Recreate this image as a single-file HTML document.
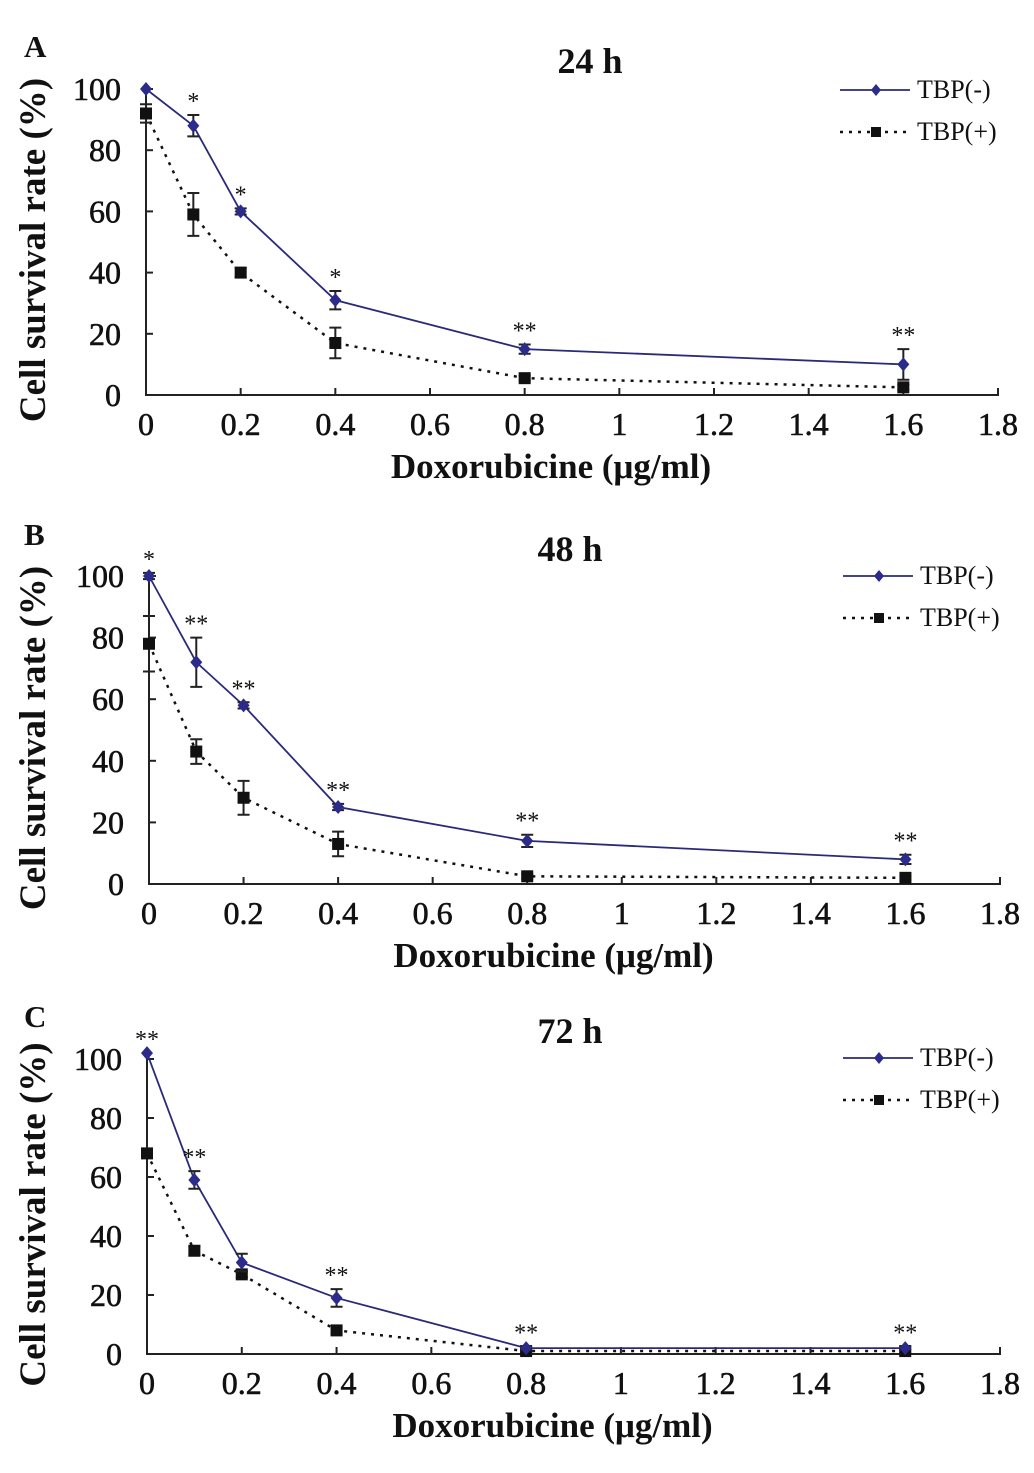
<!DOCTYPE html>
<html><head><meta charset="utf-8"><style>
body{margin:0;background:#fff}
svg{display:block}
text{font-family:"Liberation Serif",serif;fill:#111}
</style></head><body>
<svg id="fig" width="1034" height="1473" viewBox="0 0 1034 1473" xmlns="http://www.w3.org/2000/svg"></svg>
<script>
const xValues=[0,0.1,0.2,0.4,0.8,1.6];
const xTicks=[0,0.2,0.4,0.6,0.8,1,1.2,1.4,1.6,1.8];
const yTicks=[0,20,40,60,80,100];
const titles=["24 h","48 h","72 h"];
const letters=["A","B","C"];
const negA=[100,88,60,31,15,10], negAErr=[0,3.5,1,3,1.5,5];
const posA=[92,59,40,17,5.5,2.5], posAErr=[3,7,1.5,5,0.8,0.8];
const negB=[100,72,58,25,14,8], negBErr=[1,8,1,1,2,1.5];
const posB=[78,43,28,13,2.5,2], posBErr=[9,4,5.5,4,0.8,0.6];
const negC=[102,59,31,19,2,2], negCErr=[0,3,3,3,0.5,0.5];
const posC=[68,35,27,8,1,1], posCErr=[1,1.5,1,0.8,0.5,0.5];
const sigA=["","*","*","*","**","**"];
const sigB=["*","**","**","**","**","**"];
const sigC=["**","**","","**","**","**"];
const panels=[
 {x0:146,x1:998,y100:89,y0:395,neg:negA,negE:negAErr,pos:posA,posE:posAErr,sig:sigA,top:0},
 {x0:149,x1:1000,y100:576,y0:884,neg:negB,negE:negBErr,pos:posB,posE:posBErr,sig:sigB,top:488},
 {x0:147,x1:1000,y100:1059,y0:1354,neg:negC,negE:negCErr,pos:posC,posE:posCErr,sig:sigC,top:970}
];
const NS="http://www.w3.org/2000/svg";
const svg=document.getElementById('fig');
function el(tag,attrs,parent,txt){const e=document.createElementNS(NS,tag);for(const k in attrs)e.setAttribute(k,attrs[k]);if(txt!==undefined)e.textContent=txt;(parent||svg).appendChild(e);return e;}
panels.forEach((p,i)=>{
 const g=el('g',{});
 
 
 const sx=v=>p.x0+v/0.2*((p.x1-p.x0)/9);
 const sy=v=>p.y0-v*(p.y0-p.y100)/100;
 const t1=el('text',{x:24,y:p.top+57,'font-size':31,'font-weight':'bold','text-anchor':'start'},g,letters[i]);
 
 
 const t2=el('text',{x:(i==0?590:570),y:p.top+73,'font-size':36,'font-weight':'bold','text-anchor':'middle'},g,titles[i]);
 
 
 const ax=el('path',{d:`M${p.x0},${sy(100)-2}V${p.y0}H${p.x1}V${p.y0-7}`,stroke:'#222','stroke-width':2,fill:'none'},g);
 
 
 yTicks.forEach(v=>{
  el('line',{x1:p.x0,x2:p.x0+7,y1:sy(v),y2:sy(v),stroke:'#222','stroke-width':2},g);
  const t=el('text',{x:p.x0-25,y:sy(v)+11,'font-size':32,'text-anchor':'end',stroke:'#111','stroke-width':0.6},g,v);
  
  
 });
 xTicks.forEach(v=>{
  el('line',{x1:sx(v),x2:sx(v),y1:p.y0,y2:p.y0-7,stroke:'#222','stroke-width':2},g);
  const t=el('text',{x:sx(v),y:p.y0+40,'font-size':32,'text-anchor':'middle',stroke:'#111','stroke-width':0.6},g,v);
  
  
 });
 const xt=el('text',{x:(p.x0+p.x1)/2-21,y:p.y0+83,'font-size':35,'font-weight':'bold','text-anchor':'middle'},g,'Doxorubicine (μg/ml)');
 
 
 const cy=(p.y0+p.y100)/2+8;
 const yt=el('text',{x:0,y:0,'font-size':37,'font-weight':'bold','text-anchor':'middle',transform:`translate(45,${cy}) rotate(-90)`},g,'Cell survival rate (%)');
 
 
 [['pos',p.pos,p.posE,'#111','3,6'],['neg',p.neg,p.negE,'#2a2a7a',null]].forEach(([nm,vals,errs,col,dash])=>{
  const d=vals.map((v,j)=>(j?'L':'M')+sx(xValues[j])+','+sy(v)).join('');
  const a={d:d,stroke:col,'stroke-width':nm=='pos'?2.5:1.8,fill:'none'};
  if(dash)a['stroke-dasharray']=dash;
  const line=el('path',a,g);
  
  
  vals.forEach((v,j)=>{
   const x=sx(xValues[j]),y=sy(v),e=errs[j];
   if(e>0){const eh=e*(p.y0-p.y100)/100;
    el('path',{d:`M${x},${y-eh}V${y+eh}M${x-6},${y-eh}H${x+6}M${x-6},${y+eh}H${x+6}`,stroke:'#222','stroke-width':2,fill:'none'},g);}
   let m;
   if(nm=='pos') m=el('rect',{x:x-6,y:y-6,width:12,height:12,fill:'#111'},g);
   else m=el('path',{d:`M${x},${y-7}L${x+6},${y}L${x},${y+7}L${x-6},${y}Z`,fill:'#2b2b8c'},g);
   
   
  });
 });
 p.sig.forEach((s,j)=>{
  if(!s)return;
  const top=Math.min(sy(p.neg[j]+p.negE[j]),sy(p.pos[j]+p.posE[j]));
  const t=el('text',{x:sx(xValues[j]),y:top-6,'font-size':24,'text-anchor':'middle'},g,s);
  
  
 });
 const lx=i==0?840:843, ly=p.top+(i==0?90:88);
 const lg=el('g',{},g);
 
 
 el('line',{x1:lx,x2:lx+70,y1:ly,y2:ly,stroke:'#2a2a7a','stroke-width':1.8},lg);
 el('path',{d:`M${lx+36},${ly-6}L${lx+41},${ly}L${lx+36},${ly+6}L${lx+31},${ly}Z`,fill:'#2b2b8c'},lg);
 el('text',{x:lx+77,y:ly+8,'font-size':26},lg,'TBP(-)');
 el('line',{x1:lx,x2:lx+70,y1:ly+42,y2:ly+42,stroke:'#111','stroke-width':2.5,'stroke-dasharray':'3,6'},lg);
 el('rect',{x:lx+31,y:ly+37,width:10,height:10,fill:'#111'},lg);
 el('text',{x:lx+77,y:ly+50,'font-size':26},lg,'TBP(+)');
});
</script>
</body></html>
